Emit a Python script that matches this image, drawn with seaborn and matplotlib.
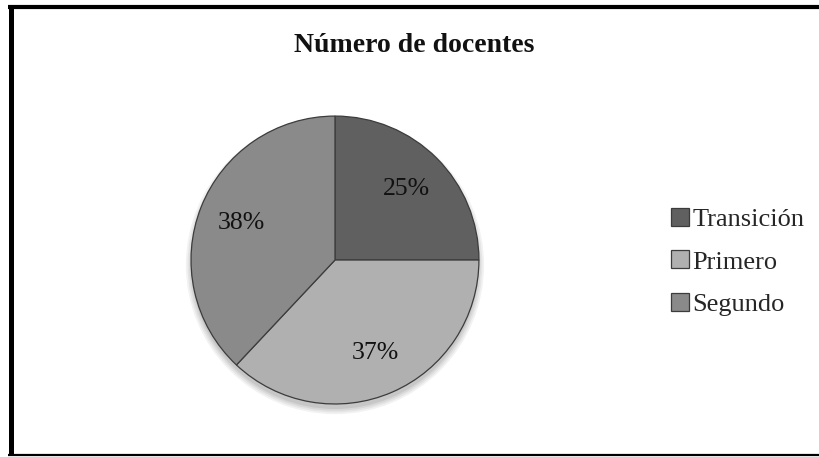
import matplotlib
matplotlib.use("Agg")
import matplotlib.pyplot as plt
from matplotlib.lines import Line2D
from matplotlib.patches import Circle
import seaborn as sns

categories = ["Transición", "Primero", "Segundo"]
values = [25, 37, 38]
colors = ["#606060", "#b0b0b0", "#8a8a8a"]
title = "Número de docentes"

sns.set_theme(style="white")
plt.rcParams["font.family"] = ["Liberation Serif", "DejaVu Serif"]

fig = plt.figure(figsize=(8.2, 4.57), dpi=100)
ax = fig.add_axes([0.4085 - 0.1756, 0.431 - 0.315, 0.3512, 0.630])

# soft shadow under the pie (decoration)
for i, a in enumerate([0.05, 0.05, 0.06, 0.07]):
    r = 1.0 + 0.012 * (3 - i)
    ax.add_patch(Circle((0, -0.035), r, facecolor="black", edgecolor="none",
                        alpha=a, zorder=0, clip_on=False))

wedges, texts, autotexts = ax.pie(
    values, colors=colors, startangle=90, counterclock=False,
    autopct="%1.0f%%", pctdistance=0.70,
    wedgeprops=dict(edgecolor="#3c3c3c", linewidth=0.9, zorder=2),
    textprops=dict(fontsize=18.5, color="#111111"),
)
ax.set_aspect("equal")
ax.set_xlim(-1.0, 1.0)
ax.set_ylim(-1.0, 1.0)
ax.axis("off")

fig.text(0.505, 0.901, title, ha="center", va="center",
         fontsize=20, fontweight="bold", color="#111111")

fig.legend(wedges, categories, loc="center left",
           bbox_to_anchor=(0.818, 0.4267), frameon=False,
           fontsize=19, handlelength=0.68, handleheight=0.68,
           handletextpad=0.15, labelspacing=0.72, borderpad=0,
           borderaxespad=0)

# figure border (left, top, bottom)
fig.add_artist(Line2D([0.0140, 0.0140], [0.005, 0.990], transform=fig.transFigure,
                      color="black", linewidth=3.6, solid_capstyle="butt"))
fig.add_artist(Line2D([0.010, 1.0], [0.9845, 0.9845], transform=fig.transFigure,
                      color="black", linewidth=3.0, solid_capstyle="butt"))
fig.add_artist(Line2D([0.010, 1.0], [0.0035, 0.0035], transform=fig.transFigure,
                      color="black", linewidth=1.6, solid_capstyle="butt"))

fig.savefig("out.png", dpi=100, facecolor="white")
